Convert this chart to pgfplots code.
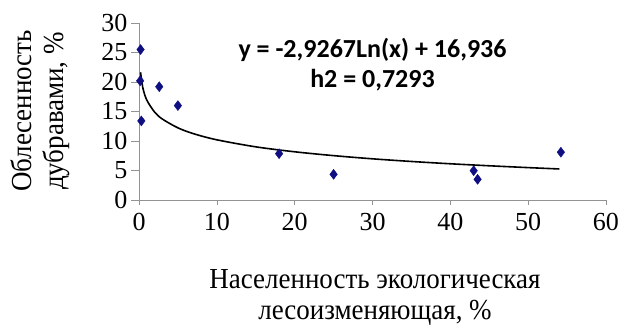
\documentclass[border=0pt]{standalone}
\usepackage{fontspec}
\setmainfont{Liberation Serif}
\newfontfamily\lblfont[FakeStretch=0.93]{Liberation Serif}
\newfontfamily\eqfont{Carlito}
\usepackage{pgfplots}
\pgfplotsset{compat=1.18}
\definecolor{ptblue}{RGB}{15,15,130}
\begin{document}
\begin{tikzpicture}[x=1pt,y=1pt]
\useasboundingbox (0,0) rectangle (621,329);
\begin{axis}[at={(139pt,129pt)}, anchor=south west, scale only axis,
  width=467pt, height=177pt,
  xmin=0, xmax=60, ymin=0, ymax=30,
  axis x line=bottom, axis y line=left,
  axis line style={-, gray!85, line width=0.6pt},
  xtick={0,10,...,60}, ytick={0,5,...,30},
  tick style={gray!85, line width=0.6pt}, tick align=outside, major tick length=8pt,
  xtick style={/pgfplots/major tick length=5pt},
  tick label style={font=\fontsize{26}{26}\selectfont},
  xticklabel style={yshift=-2pt},
  /pgf/number format/assume math mode=true,
  clip=false]
\addplot[only marks, mark=diamond*, mark size=5pt, color=ptblue] coordinates {
 (0.2,25.5) (0.3,13.4) (0.15,20.2) (2.6,19.2) (5.0,16.0) (18.0,7.85) (25.0,4.35) (43.0,4.97) (43.5,3.5) (54.2,8.1)
};
\addplot[black, line width=1.6pt, smooth] coordinates {
 (0.2,21.65) (0.5,18.97) (1,16.94) (2,14.91) (3,13.72) (5,12.23) (7,11.24) (10,10.20) (15,9.01) (20,8.17) (25,7.52) (30,6.98) (35,6.53) (40,6.14) (45,5.80) (50,5.49) (54,5.26)
};
\node[font=\eqfont\bfseries\fontsize{26}{26}\selectfont] at (axis cs:30,25.4) {y = -2,9267Ln(x) + 16,936};
\node[font=\eqfont\bfseries\fontsize{26}{26}\selectfont] at (axis cs:30,20.4) {h2 = 0,7293};
\end{axis}
\node[rotate=90, align=center, font=\lblfont\fontsize{29}{32}\selectfont] at (40,218) {Облесенность\\дубравами, \%};
\node[align=center, font=\lblfont\fontsize{29}{31}\selectfont] at (375,31) {Населенность экологическая\\лесоизменяющая, \%};
\end{tikzpicture}
\end{document}
